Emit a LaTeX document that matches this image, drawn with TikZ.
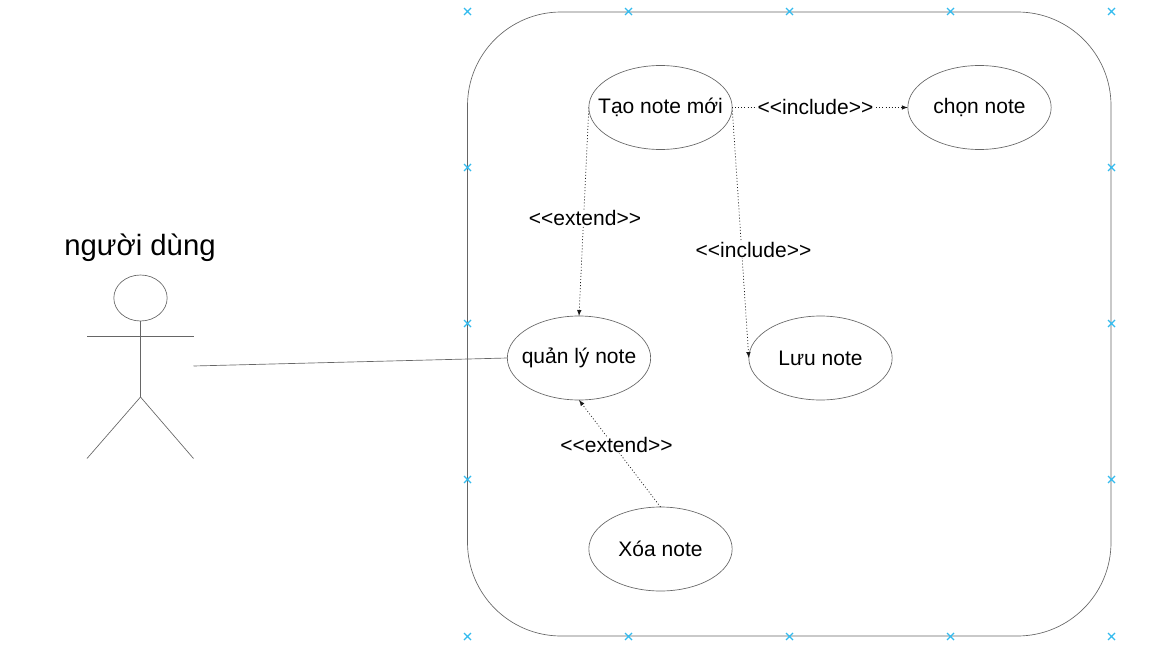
\documentclass[tikz,border=0pt]{standalone}
\usepackage{fontspec}
\setmainfont{Liberation Sans}
\usetikzlibrary{shapes}
\tikzset{>=latex}
\definecolor{crosscol}{RGB}{51,187,238}
\colorlet{linecol}{black!60}
\newcommand{\uctext}[1]{\makebox[0pt]{#1}}
\tikzstyle{usecase}=[ellipse,draw=linecol,line width=0.5pt,fill=white,minimum width=107.5pt,minimum height=63pt,inner sep=0pt,outer sep=0pt,font=\fontsize{15.75}{18}\selectfont]
\tikzstyle{relation}=[->,black!90,line width=0.55pt,dash pattern=on 0.7pt off 1.6pt,>={latex[scale=0.5]}]
\tikzstyle{stereotype}=[fill=white,inner sep=0.5pt,font=\fontsize{15.75}{18}\selectfont]
\tikzstyle{actor line}=[draw=linecol,line width=0.5pt]
\tikzstyle{guide}=[crosscol,line width=1pt]

\begin{document}
\begin{tikzpicture}[x=0.75pt,y=-0.75pt]
  \useasboundingbox (0,0) rectangle (1152,667);

  % FRAME
  \draw[actor line,rounded corners=70.2pt] (467.5,12) rectangle (1111,636);
  \foreach \x in {467.5,628.5,789.5,950.5,1111.5}{
    \foreach \y in {11.5,636.5}{
      \draw[guide] (\x-3.5,\y-3.5) -- (\x+3.5,\y+3.5) (\x-3.5,\y+3.5) -- (\x+3.5,\y-3.5);
    }
  }
  \foreach \x in {467.5,1111.5}{
    \foreach \y in {167.5,323.5,479.5}{
      \draw[guide] (\x-3.5,\y-3.5) -- (\x+3.5,\y+3.5) (\x-3.5,\y+3.5) -- (\x+3.5,\y-3.5);
    }
  }

  % USE CASES
  \node[usecase] (tao) at (660.5,107.5) {\uctext{Tạo note mới}};
  \node[usecase] (chon) at (979.5,107.5) {\uctext{chọn note}};
  \node[usecase] (quanly) at (579,358) {\uctext{quản lý note}};
  \node[usecase] (luu) at (820.5,358) {\uctext{Lưu note}};
  \node[usecase] (xoa) at (660.5,549) {\uctext{Xóa note}};

  % RELATIONS
  \draw[relation] (tao.east) -- (chon.west);
  \draw[relation] (tao.west) -- (quanly.north);
  \draw[relation] (tao.east) -- (luu.west);
  \draw[relation] (xoa.north) -- (quanly.south);
  \node[stereotype] (lblinc) at (815.5,107) {<{}<include>{}>};
  \node[stereotype] (lblext) at (585,218) {<{}<extend>{}>};
  \node[stereotype] (lblsave) at (753.5,250) {<{}<include>{}>};
  \node[stereotype] (lbldel) at (616.5,445) {<{}<extend>{}>};

  % ACTOR
  \node[ellipse,actor line,minimum width=40pt,minimum height=34.5pt,inner sep=0pt,outer sep=0pt] (head) at (140.5,298) {};
  \coordinate (hip) at (140.5,397);
  \coordinate (hand) at (193.5,366);
  \draw[actor line] (head.south) -- (hip) -- (87,458.5);
  \draw[actor line] (hip) -- (193.5,458.5);
  \draw[actor line] (87,336.5) -- (193.5,336.5);
  \draw[actor line] (hand) -- (quanly.west);
  \node[font=\fontsize{22}{26}\selectfont] (actor) at (140,247.5) {người dùng};
\end{tikzpicture}
\end{document}
